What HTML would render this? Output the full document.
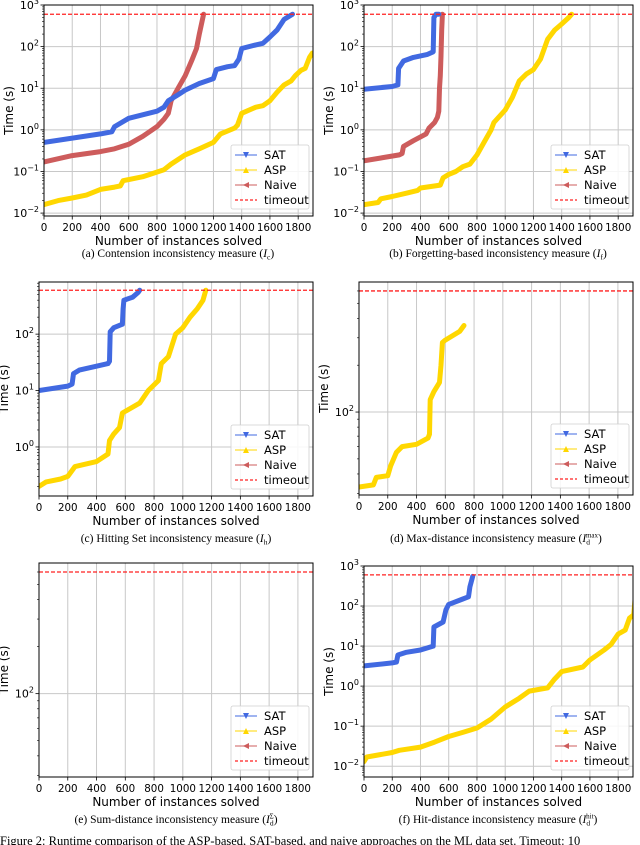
<!DOCTYPE html>
<html><head><meta charset="utf-8">
<style>
html,body{margin:0;padding:0;background:#fff;width:640px;height:845px;overflow:hidden}
svg{display:block}
</style></head>
<body>
<svg id="fig" width="640" height="845" viewBox="0 0 640 845" xmlns="http://www.w3.org/2000/svg" font-family="'DejaVu Sans','Liberation Sans',sans-serif"></svg>
<script>
// ---- data (instances solved, seconds) ----
const xTicks = [0,200,400,600,800,1000,1200,1400,1600,1800];
const timeoutValue = 600;
const seriesNames = ["SAT","ASP","Naive"];

const aSATx = [0,400,480,500,600,800,850,880,950,1000,1100,1200,1220,1300,1350,1380,1400,1500,1550,1600,1650,1700,1760];
const aSATy = [0.5,0.8,0.9,1.2,1.9,2.8,3.5,5,7,9,13,17,28,33,35,50,90,110,120,170,250,450,600];
const aNaivex = [0,200,400,500,600,700,800,850,880,900,950,1000,1050,1080,1100,1130];
const aNaivey = [0.17,0.24,0.3,0.35,0.45,0.7,1.2,1.8,2.5,5,10,20,50,90,200,600];
const aASPx = [0,100,200,300,400,500,540,560,700,850,900,1000,1100,1200,1250,1350,1370,1400,1500,1550,1600,1650,1700,1750,1780,1820,1850,1880,1900];
const aASPy = [0.016,0.02,0.023,0.027,0.037,0.042,0.045,0.06,0.075,0.11,0.15,0.25,0.35,0.5,0.8,1.1,1.3,2.5,3.5,3.8,5,8,12,15,20,27,30,55,70];

const bSATx = [0,200,240,245,280,350,450,490,495,510,530];
const bSATy = [9.5,11,12,30,45,55,65,75,500,600,600];
const bNaivex = [0,250,270,280,350,440,460,500,520,530,535,540,545,550,555];
const bNaivey = [0.18,0.25,0.27,0.4,0.55,0.8,1.1,1.5,2,2.8,10,20,60,250,600];
const bASPx = [0,100,120,200,300,380,400,540,560,600,650,700,750,800,850,900,920,1000,1050,1100,1150,1200,1250,1300,1350,1400,1450,1470];
const bASPy = [0.016,0.018,0.022,0.025,0.03,0.035,0.04,0.047,0.07,0.085,0.1,0.13,0.15,0.25,0.5,1,1.5,3,6,15,22,28,50,150,250,350,500,600];

const cSATx = [0,200,230,240,280,400,480,490,495,520,580,585,590,650,690,700];
const cSATy = [10,12,13,20,23,27,30,33,110,130,150,280,400,450,550,600];
const cASPx = [0,50,150,200,250,400,480,490,520,560,570,580,700,760,830,850,900,950,1000,1050,1100,1140,1160];
const cASPy = [0.2,0.24,0.27,0.3,0.45,0.55,0.75,1.3,1.7,2.2,3,4,6,10,15,30,40,100,130,200,280,400,600];

const dASPx = [0,100,120,200,220,260,300,400,480,490,495,520,560,570,580,600,700,730];
const dASPy = [33,34,38,39,45,55,60,62,68,72,120,135,155,200,280,290,330,360];

const fSATx = [0,200,230,240,300,400,490,495,560,580,600,700,740,750,770];
const fSATy = [3.2,3.8,4,6,7,8,10,30,40,80,110,150,170,300,550];
const fASPx = [0,20,100,200,250,400,500,600,700,800,900,1000,1100,1170,1300,1350,1400,1550,1600,1700,1750,1800,1850,1880,1910,1920];
const fASPy = [0.013,0.017,0.019,0.022,0.025,0.03,0.04,0.055,0.07,0.09,0.15,0.3,0.5,0.75,0.9,1.5,2.3,3,4.5,8,11,20,25,50,60,150];

const NS="http://www.w3.org/2000/svg";
const fig=document.getElementById('fig');
const COL={SAT:"#4169e1",ASP:"#ffd700",Naive:"#cd5c5c"};
function mk(tag,attrs,parent){const e=document.createElementNS(NS,tag);for(const k in attrs)e.setAttribute(k,attrs[k]);(parent||fig).appendChild(e);return e;}

function plot(id,L,R,T,B,ymin,ymax,majors,series,capX,capY,capParts){
  const g=mk('g',{});
  
  
  const xmax=1905;
  const sx=v=>L+v/xmax*(R-L);
  const lmin=Math.log10(ymin),lmax=Math.log10(ymax);
  const sy=v=>T+(lmax-Math.log10(v))/(lmax-lmin)*(B-T);
  const cid='clip-'+id;
  const cp=mk('clipPath',{id:cid},g);mk('rect',{x:L,y:T,width:R-L,height:B-T},cp);
  xTicks.forEach(t=>{const gl=mk('line',{x1:sx(t),x2:sx(t),y1:T,y2:B,stroke:"#c8c8c8","stroke-width":1},g);
    });
  majors.forEach(m=>{const v=Math.pow(10,m);if(v<ymin||v>ymax)return;
    const gl=mk('line',{x1:L,x2:R,y1:sy(v),y2:sy(v),stroke:"#c8c8c8","stroke-width":1},g);
    });
  const sg=mk('g',{'clip-path':'url(#'+cid+')'},g);
  series.forEach(s=>{
    const pts=s.x.map((v,i)=>sx(v).toFixed(1)+','+sy(s.y[i]).toFixed(1)).join(' ');
    const pl=mk('polyline',{points:pts,fill:'none',stroke:COL[s.n],'stroke-width':5,'stroke-linejoin':'round','stroke-linecap':'round'},sg);
    
    
  });
  const to=mk('line',{x1:L,x2:R,y1:sy(timeoutValue),y2:sy(timeoutValue),stroke:"#ff2020","stroke-width":1.3,"stroke-dasharray":"4,2"},sg);
  
  const sp=mk('rect',{x:L,y:T,width:R-L,height:B-T,fill:'none',stroke:'#000','stroke-width':1},g);
  
  xTicks.forEach(t=>{mk('line',{x1:sx(t),x2:sx(t),y1:B,y2:B+3.5,stroke:'#000','stroke-width':0.8},g);
    const tx=mk('text',{x:sx(t),y:B+15,'font-size':10.3,'text-anchor':'middle',fill:'#000'},g);tx.textContent=t;
    });
  for(let d=Math.floor(lmin);d<=Math.ceil(lmax);d++){
    for(let k=1;k<10;k++){const v=k*Math.pow(10,d);if(v<ymin*0.999||v>ymax*1.001)continue;
      const y=sy(v);mk('line',{x1:L-(k==1?3.5:2),x2:L,y1:y,y2:y,stroke:'#000','stroke-width':k==1?0.8:0.6},g);
      if(k==1){const tx=mk('text',{x:L-5,y:y+4,'font-size':11,'text-anchor':'end',fill:'#000'},g);
        
        const a=mk('tspan',{},tx);a.textContent='10';
        const b=mk('tspan',{dy:-5,'font-size':8},tx);b.textContent=(d<0?'\u2212'+(-d):d);}
    }
  }
  const yt=mk('text',{x:0,y:0,'font-size':12,'text-anchor':'middle',transform:`translate(${L-31},${(T+B)/2}) rotate(-90)`},g);
  yt.textContent='Time (s)';
  const xt=mk('text',{x:(L+R)/2,y:B+29,'font-size':12,'text-anchor':'middle'},g);
  xt.textContent='Number of instances solved';
  const lg=mk('g',{},g);
  const lx=R-82,ly=B-71;
  mk('rect',{x:lx,y:ly,width:78,height:64,rx:2,fill:'#fff','fill-opacity':0.85,stroke:'#d0d0d0','stroke-width':0.8},lg);
  const ents=[["SAT","#4169e1","v"],["ASP","#ffd700","^"],["Naive","#cd5c5c","<"],["timeout","#ff2020","d"]];
  ents.forEach((e,i)=>{const y=ly+10+i*15;const eg=mk('g',{},lg);
    
    const lx1=lx+4,lx2=lx+26,cx=lx+15;
    if(e[2]=='d'){mk('line',{x1:lx1,x2:lx2,y1:y,y2:y,stroke:e[1],'stroke-width':1.3,'stroke-dasharray':'3,2'},eg);}
    else{mk('line',{x1:lx1,x2:lx2,y1:y,y2:y,stroke:e[1],'stroke-width':1.3,'stroke-opacity':0.8},eg);
      let p=e[2]=='v'?`${cx-3},${y-3} ${cx+3},${y-3} ${cx},${y+3}`:e[2]=='^'?`${cx-3},${y+3} ${cx+3},${y+3} ${cx},${y-3}`:`${cx+3},${y-3} ${cx+3},${y+3} ${cx-3},${y}`;
      mk('polygon',{points:p,fill:e[1]},eg);}
    const t=mk('text',{x:lx+33,y:y+4,'font-size':11.5},eg);t.textContent=e[0];});
  const cap=mk('text',{x:capX,y:capY,'font-size':11.5,'text-anchor':'middle','font-family':"'Liberation Serif',serif"},g);
  
  const t1=mk('tspan',{},cap);t1.textContent=capParts[0]+' (';
  const t2=mk('tspan',{'font-style':'italic','font-size':11.5},cap);t2.textContent='I';
  const t3=mk('tspan',{dy:2.5,'font-size':7.5},cap);t3.textContent=capParts[1];
  if(capParts[2]){
    const t4=mk('tspan',{dx:-4,dy:-7,'font-size':7},cap);t4.textContent=capParts[2];
    const t5=mk('tspan',{dy:4.5},cap);t5.textContent=')';
  } else {
    const t5=mk('tspan',{dy:-2.5},cap);t5.textContent=')';
  }
}

plot('a',44,313,5,216,Math.pow(10,-2.07),1000,[-2,-1,0,1,2,3],
  [{n:"ASP",x:aASPx,y:aASPy},{n:"Naive",x:aNaivex,y:aNaivey},{n:"SAT",x:aSATx,y:aSATy}],
  178,257,["(a) Contension inconsistency measure","c"]);
plot('b',364,633,5,216,Math.pow(10,-2.07),1000,[-2,-1,0,1,2,3],
  [{n:"ASP",x:bASPx,y:bASPy},{n:"Naive",x:bNaivex,y:bNaivey},{n:"SAT",x:bSATx,y:bSATy}],
  498,257,["(b) Forgetting-based inconsistency measure","f"]);
plot('c',39,313,282,496,0.135,840,[0,1,2],
  [{n:"ASP",x:cASPx,y:cASPy},{n:"SAT",x:cSATx,y:cSATy}],
  176,542,["(c) Hitting Set inconsistency measure","h"]);
plot('d',359,633,282,495,29.3,685,[2],
  [{n:"ASP",x:dASPx,y:dASPy}],
  496,542,["(d) Max-distance inconsistency measure","d","max"]);
plot('e',39,313,563,777,29.3,685,[2],[],
  176,823,["(e) Sum-distance inconsistency measure","d","Σ"]);
plot('f',364,633,566,777,Math.pow(10,-2.27),1000,[-2,-1,0,1,2,3],
  [{n:"ASP",x:fASPx,y:fASPy},{n:"SAT",x:fSATx,y:fSATy}],
  498,823,["(f) Hit-distance inconsistency measure","d","hit"]);

const fc=mk('text',{x:0,y:845,'font-size':12.5,'font-family':"'Liberation Serif',serif"});


fc.textContent='Figure 2: Runtime comparison of the ASP-based, SAT-based, and naive approaches on the ML data set. Timeout: 10';
</script>
</body></html>
